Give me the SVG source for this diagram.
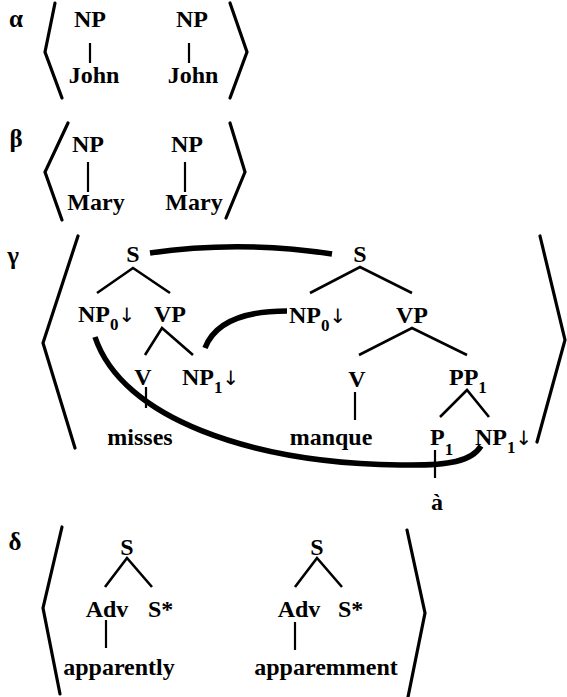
<svg xmlns="http://www.w3.org/2000/svg" width="567" height="697" viewBox="0 0 567 697">
<style>
text{font-family:"Liberation Serif","Times New Roman",serif;font-size:24px;font-weight:bold;fill:#000}
.m{text-anchor:middle}
.g{font-size:25px}
.sub{font-size:17px}
.ar{font-family:"DejaVu Sans","Liberation Sans",sans-serif;font-weight:normal;font-size:20px}
.br{fill:none;stroke:#000;stroke-width:3.2;stroke-linejoin:miter;stroke-linecap:round}
.e{fill:none;stroke:#000;stroke-width:2.6;stroke-linecap:butt}
.v{fill:none;stroke:#000;stroke-width:2.2}
.lk{fill:none;stroke:#000;stroke-width:5.5;stroke-linecap:butt}
</style>
<rect width="567" height="697" fill="#fff"/>
<g id="labels">
<text x="16" y="27" class="m g">α</text>
<text x="16" y="147" class="m g">β</text>
<text x="13" y="264" class="m g">γ</text>
<text x="15" y="550" class="m g">δ</text>
</g>
<g id="brackets">
<polyline class="br" points="55,3 45,52 62,98"/>
<polyline class="br" points="230,3 247,52 230,98"/>
<polyline class="br" points="68,123 45,172 62,220"/>
<polyline class="br" points="230,123 245,172 226,218"/>
<polyline class="br" points="78,236 43,343 75,448"/>
<polyline class="br" points="540,236 565,340 537,442"/>
<polyline class="br" points="62,527 43,608 60,694"/>
<polyline class="br" points="407,530 425,613 408,697"/>
</g>
<g id="connectors">
<line class="v" x1="90" y1="43" x2="90" y2="63"/>
<line class="v" x1="189" y1="43" x2="189" y2="63"/>
<line class="v" x1="88" y1="162" x2="88" y2="192"/>
<line class="v" x1="185" y1="162" x2="185" y2="192"/>
<polyline class="e" points="97,293 133,268 170,293"/>
<polyline class="e" points="145,355 162,328 193,355"/>
<line class="v" x1="146" y1="387" x2="146" y2="408"/>
<polyline class="e" points="310,293 360,267 412,293"/>
<polyline class="e" points="359,355 412,328 467,355"/>
<line class="v" x1="355" y1="392" x2="355" y2="420"/>
<polyline class="e" points="440,417 467,390 489,417"/>
<line class="v" x1="435" y1="450" x2="435" y2="478"/>
<polyline class="e" points="105,587 127,558 152,587"/>
<line class="v" x1="106" y1="620" x2="106" y2="648"/>
<polyline class="e" points="295,587 317,558 342,587"/>
<line class="v" x1="295" y1="622" x2="295" y2="650"/>
<path class="lk" d="M150,253 Q240,240 332,254"/>
<path class="lk" d="M205,348 C215,322 245,311 287,311"/>
<path class="lk" d="M95,337 C122,418 250,463 400,465 C450,466 472,461 481,446"/>
</g>
<g id="alpha-np1"><text x="90" y="27" class="m">NP</text></g>
<g id="alpha-john1"><text x="94" y="83" class="m">John</text></g>
<g id="alpha-np2"><text x="192" y="27" class="m">NP</text></g>
<g id="alpha-john2"><text x="193" y="83" class="m">John</text></g>
<g id="beta-np1"><text x="88" y="152" class="m">NP</text></g>
<g id="beta-mary1"><text x="96" y="210" class="m">Mary</text></g>
<g id="beta-np2"><text x="187" y="152" class="m">NP</text></g>
<g id="beta-mary2"><text x="194" y="210" class="m">Mary</text></g>
<g id="g1-s"><text x="133" y="262" class="m">S</text></g>
<g id="g1-np0"><text x="78" y="322">NP<tspan class="sub" dy="8">0</tspan><tspan class="ar" dy="-8">↓</tspan></text></g>
<g id="g1-vp"><text x="170" y="322" class="m">VP</text></g>
<g id="g1-v"><text x="143" y="385" class="m">V</text></g>
<g id="g1-np1"><text x="182" y="385">NP<tspan class="sub" dy="8">1</tspan><tspan class="ar" dy="-8">↓</tspan></text></g>
<g id="g1-misses"><text x="140" y="445" class="m">misses</text></g>
<g id="g2-s"><text x="360" y="262" class="m">S</text></g>
<g id="g2-np0"><text x="289" y="323">NP<tspan class="sub" dy="8">0</tspan><tspan class="ar" dy="-8">↓</tspan></text></g>
<g id="g2-vp"><text x="412" y="323" class="m">VP</text></g>
<g id="g2-v"><text x="357" y="387" class="m">V</text></g>
<g id="g2-manque"><text x="331" y="445" class="m">manque</text></g>
<g id="g2-pp1"><text x="449" y="385">PP<tspan class="sub" dy="8">1</tspan></text></g>
<g id="g2-p1"><text x="430" y="445">P<tspan class="sub" dy="10">1</tspan></text></g>
<g id="g2-np1"><text x="475" y="445">NP<tspan class="sub" dy="8">1</tspan><tspan class="ar" dy="-8">↓</tspan></text></g>
<g id="g2-a"><text x="437" y="510" class="m">à</text></g>
<g id="d1-s"><text x="127" y="555" class="m">S</text></g>
<g id="d1-adv"><text x="107" y="617" class="m">Adv</text></g>
<g id="d1-sstar"><text x="148" y="617">S*</text></g>
<g id="d1-apparently"><text x="119" y="675" class="m">apparently</text></g>
<g id="d2-s"><text x="317" y="555" class="m">S</text></g>
<g id="d2-adv"><text x="299" y="617" class="m">Adv</text></g>
<g id="d2-sstar"><text x="338" y="617">S*</text></g>
<g id="d2-apparemment"><text x="326" y="675" class="m">apparemment</text></g>
</svg>
